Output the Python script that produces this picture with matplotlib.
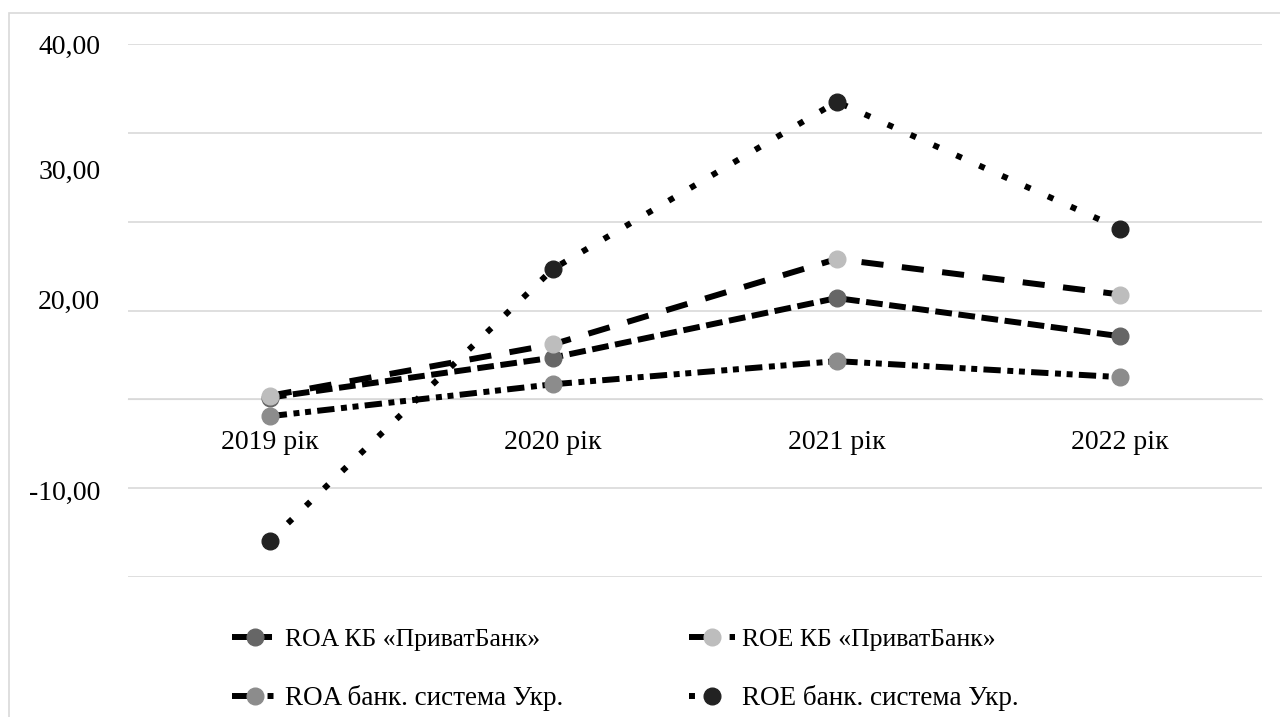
import matplotlib
matplotlib.use("Agg")
import matplotlib.pyplot as plt
from matplotlib.patches import Rectangle

plt.rcParams["font.family"] = ["Liberation Serif", "DejaVu Serif"]

years = ["2019 рік", "2020 рік", "2021 рік", "2022 рік"]

roa_pb = [0.2, 4.7, 11.4, 7.1]
roe_pb = [0.4, 6.2, 15.8, 11.8]
roa_sys = [-1.9, 1.7, 4.3, 2.5]
roe_sys = [-15.9, 14.7, 33.5, 19.2]

series_names = [
    "ROA КБ «ПриватБанк»",
    "ROE КБ «ПриватБанк»",
    "ROA банк. система Укр.",
    "ROE банк. система Укр.",
]

# y-axis labels as they sit in the source picture (value, text)
ylabel_pos = [40, 25.9, 11.3, -10.2]
ylabel_txt = ["40,00", "30,00", "20,00", "-10,00"]
grid_vals = [-20, -10, 0, 10, 20, 30, 40]

fig = plt.figure(figsize=(12.8, 7.17), dpi=100)
ax = fig.add_axes([128 / 1280, 1 - 577 / 717, (1262 - 128) / 1280, (577 - 44) / 717])

x = range(len(years))
# dash patterns are in units of line width
styles = [
    dict(data=roa_pb, lw=4.3, dashes=(2.8, 1.1), mfc="#666666"),
    dict(data=roe_pb, lw=4.3, dashes=(3.7, 3.1), mfc="#bdbdbd"),
    dict(data=roa_sys, lw=4.3, dashes=(2.9, 1.1, 1.0, 0.95, 1.0, 1.05), mfc="#8c8c8c"),
    dict(data=roe_sys, lw=4.3, dashes=(1.0, 3.2), mfc="#222222"),
]

handles = []
for name, st in zip(series_names, styles):
    (line,) = ax.plot(
        x, st["data"], color="black", lw=st["lw"],
        marker="o", markersize=12, markerfacecolor=st["mfc"],
        markeredgecolor=st["mfc"], label=name, dash_capstyle="butt",
        zorder=3,
    )
    line.set_dashes(st["dashes"])
    handles.append(line)

ax.set_xlim(-0.5, 3.5)
ax.set_ylim(-20, 40)

for v in grid_vals:
    ax.axhline(v, color="#d9d9d9", lw=1.2, zorder=1)

for s in ["top", "right", "left"]:
    ax.spines[s].set_visible(False)
ax.spines["bottom"].set_position(("data", 0))
ax.spines["bottom"].set_color("#d9d9d9")

ax.set_xticks(list(x))
ax.set_xticklabels(years, fontsize=20)
ax.tick_params(axis="x", length=0, pad=22)

ax.set_yticks(ylabel_pos)
ax.set_yticklabels(ylabel_txt, fontsize=20)
ax.tick_params(axis="y", length=0, pad=20)

order = [0, 2, 1, 3]
leg = fig.legend(
    [handles[i] for i in order], [series_names[i] for i in order],
    ncol=2, loc="upper left", bbox_to_anchor=(209 / 1280, 1 - 605 / 717),
    frameon=False, fontsize=18.5, handlelength=1.8, handletextpad=0.25,
    columnspacing=4.9, labelspacing=1.3,
)
# second legend row is drawn slightly larger in the source
for i in (1, 3):
    leg.get_texts()[i].set_fontsize(19.5)

fig.patches.append(Rectangle((9 / 1280, -0.1), 1.5, 1 - 13 / 717 + 0.1,
                             transform=fig.transFigure, fill=False,
                             edgecolor="#d9d9d9", lw=1.2))

fig.savefig("out.png", dpi=100, facecolor="white")
